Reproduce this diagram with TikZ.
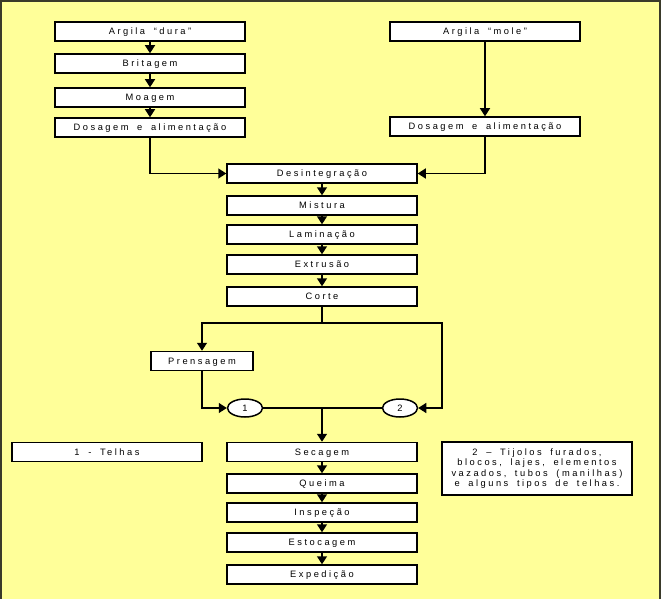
\documentclass[tikz,border=0pt]{standalone}
\usepackage{fontspec}
\setmainfont{Liberation Sans}[LetterSpace=27,WordSpace=1.7]
\usetikzlibrary{positioning,shapes.geometric,arrows.meta}
\definecolor{papel}{HTML}{FFFF99}
\definecolor{moldura}{HTML}{3A3A2A}

\tikzset{
  caixa/.style={draw,fill=white,line width=1.5pt,minimum width=190pt,minimum height=19pt,inner sep=0pt,
    text height=6.6pt,text depth=0pt,font=\fontsize{9.3}{10}\selectfont},
  nota/.style={draw,fill=white,line width=1.5pt,minimum width=190pt,minimum height=53pt,inner sep=0pt,
    align=center,font=\fontsize{9.3}{10.5}\selectfont},
  bola/.style={draw,fill=white,ellipse,line width=1.5pt,minimum width=35pt,minimum height=18pt,inner sep=0pt,
    text height=6.6pt,text depth=0pt,font=\fontsize{9.3}{10}\selectfont},
  fluxo/.style={line width=1.5pt,-{Triangle[width=10pt,length=8pt]}},
  linha/.style={line width=1.5pt}
}

\begin{document}
\begin{tikzpicture}[x=1pt,y=-1pt]
\useasboundingbox (0,0) rectangle (666,599);
\fill[papel] (0,0) rectangle (660,599);
\draw[moldura,line width=2pt] (1,599) -- (1,1) -- (660,1) -- (660,599);
%
\node[caixa] (dura) at (150,31.5) {Argila “dura”};
\node[caixa] (brit) at (150,63.5) {Britagem};
\node[caixa] (moag) at (150,97.5) {Moagem};
\node[caixa] (dosL) at (150,127.5) {Dosagem e alimentação};
\node[caixa] (mole) at (485,31.5) {Argila “mole”};
\node[caixa] (dosR) at (485,126.5) {Dosagem e alimentação};
\node[caixa] (desin) at (322,173.5) {Desintegração};
\node[caixa] (mist) at (322,205.5) {Mistura};
\node[caixa] (lamin) at (322,234.5) {Laminação};
\node[caixa] (extr) at (322,264.5) {Extrusão};
\node[caixa] (corte) at (322,296.5) {Corte};
\node[caixa,minimum width=102pt] (prens) at (202,361) {Prensagem};
\node[bola] (um) at (245,408) {1};
\node[bola] (dois) at (400,408) {2};
\node[caixa] (telhas) at (107,452) {1 - Telhas};
\node[caixa] (secag) at (322,452) {Secagem};
\node[caixa] (queima) at (322,483.5) {Queima};
\node[caixa] (insp) at (322,512.5) {Inspeção};
\node[caixa] (estoc) at (322,542.5) {Estocagem};
\node[caixa] (exped) at (322,574.5) {Expedição};
\node[nota] (tipos) at (537,468.5)
  {2 – Tijolos furados,\\blocos, lajes, elementos\\vazados, tubos (manilhas)\\e alguns tipos de telhas.};
%
\coordinate (bif) at (322,323);
\coordinate (junta) at (322,408);
%
\draw[fluxo] (dura) -- (brit);
\draw[fluxo] (brit) -- (moag);
\draw[fluxo] (moag) -- (dosL);
\draw[fluxo] (mole) -- (dosR);
\draw[fluxo] (dosL.south) |- (desin.west);
\draw[fluxo] (dosR.south) |- (desin.east);
\draw[fluxo] (desin) -- (mist);
\draw[fluxo] (mist) -- (lamin);
\draw[fluxo] (lamin) -- (extr);
\draw[fluxo] (extr) -- (corte);
\draw[linha] (corte.south) -- (bif);
\draw[fluxo] (bif) -| (prens.north);
\draw[fluxo] (bif) -| (442,360) |- (dois.east);
\draw[fluxo] (prens.south) |- (um.west);
\draw[linha] (um) -- (dois);
\draw[fluxo] (junta) -- (secag);
\draw[fluxo] (secag) -- (queima);
\draw[fluxo] (queima) -- (insp);
\draw[fluxo] (insp) -- (estoc);
\draw[fluxo] (estoc) -- (exped);
\end{tikzpicture}
\end{document}
